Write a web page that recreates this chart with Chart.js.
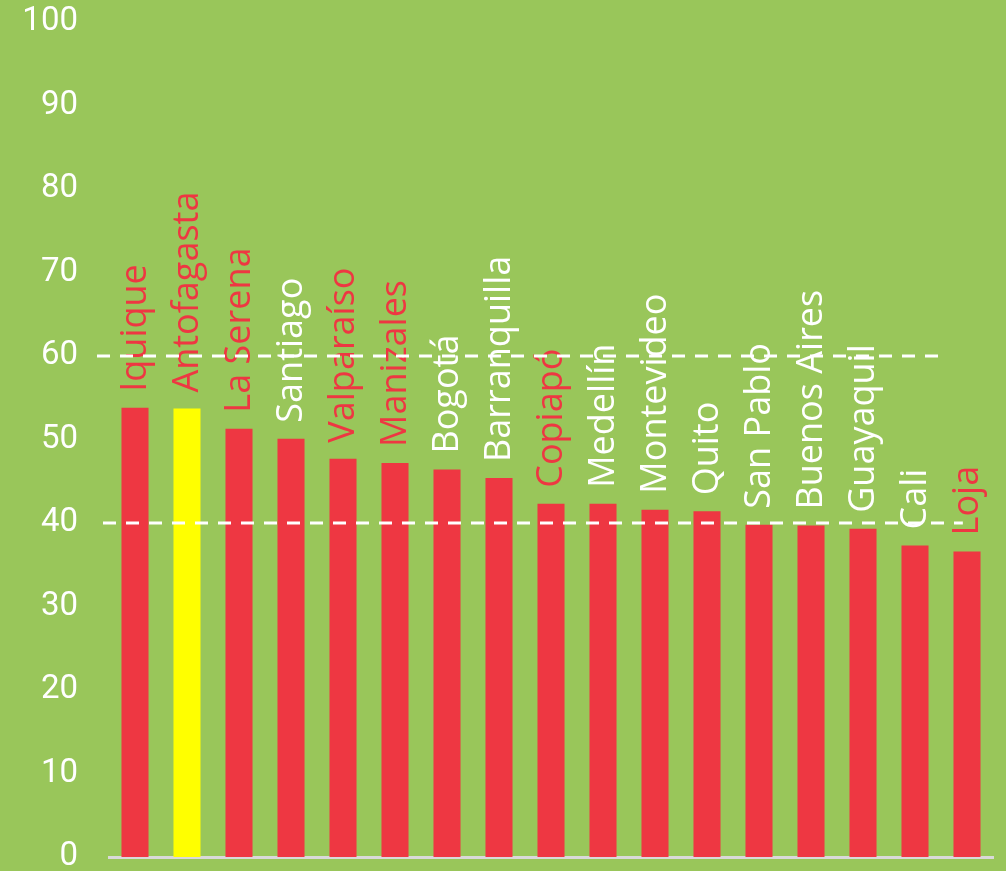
<!DOCTYPE html>
<html>
<head>
<meta charset="utf-8">
<script src="https://cdn.jsdelivr.net/npm/chart.js@4/dist/chart.umd.min.js"></script>
<style>
  html, body { margin: 0; padding: 0; background: #99C65A; }
  #wrap { width: 1006px; height: 871px; }
</style>
</head>
<body>
<div id="wrap"><canvas id="c" width="1006" height="871"></canvas></div>
<script>
// ---- data ----
const categories = ["Iquique", "Antofagasta", "La Serena", "Santiago", "Valparaíso", "Manizales", "Bogotá", "Barranquilla", "Copiapó", "Medellín", "Montevideo", "Quito", "San Pablo", "Buenos Aires", "Guayaquil", "Cali", "Loja"];
const values = [53.8, 53.7, 51.3, 50.1, 47.7, 47.2, 46.4, 45.4, 42.3, 42.3, 41.6, 41.4, 39.8, 39.7, 39.3, 37.3, 36.6];
const yTicks = [0, 10, 20, 30, 40, 50, 60, 70, 80, 90, 100];
const referenceLines = [60, 40];
const highlighted = ["Antofagasta"];
const redLabelCities = ["Iquique", "Antofagasta", "La Serena", "Valparaíso", "Manizales", "Copiapó", "Loja"];

// ---- styles ----
const BG = "#99C65A";
const RED = "#EE3742";
const YELLOW = "#FFFF00";
const WHITE = "#FFFFFF";

const barColors = categories.map(c => highlighted.includes(c) ? YELLOW : RED);

const bgPlugin = {
  id: "bg",
  beforeDraw(chart) {
    const ctx = chart.ctx;
    ctx.save();
    ctx.fillStyle = BG;
    ctx.fillRect(0, 0, chart.width, chart.height);
    ctx.restore();
  }
};

const labelPlugin = {
  id: "barLabels",
  afterDatasetsDraw(chart) {
    const ctx = chart.ctx;
    const meta = chart.getDatasetMeta(0);
    ctx.save();
    ctx.font = "36px 'Open Sans'";
    meta.data.forEach((bar, i) => {
      const name = categories[i];
      ctx.save();
      ctx.translate(bar.x + 1, bar.y - 16);
      ctx.rotate(-Math.PI / 2);
      ctx.textAlign = "left";
      ctx.textBaseline = "middle";
      ctx.fillStyle = redLabelCities.includes(name) ? RED : WHITE;
      ctx.fillText(name, 0, 0);
      ctx.restore();
    });
    ctx.restore();
  }
};

const refLinePlugin = {
  id: "refLines",
  afterDraw(chart) {
    const ctx = chart.ctx;
    const ys = chart.scales.y;
    const xs = chart.scales.x;
    const area = chart.chartArea;
    const extents = [
      [area.left - 12, xs.getPixelForValue(15.6)],
      [area.left - 6, xs.getPixelForValue(15.92)]
    ];
    ctx.save();
    ctx.strokeStyle = WHITE;
    ctx.lineWidth = 3;
    ctx.setLineDash([13, 10]);
    referenceLines.forEach((v, i) => {
      const y = ys.getPixelForValue(v);
      ctx.beginPath();
      ctx.moveTo(extents[i][0], y);
      ctx.lineTo(extents[i][1], y);
      ctx.stroke();
    });
    ctx.restore();
  }
};

new Chart(document.getElementById("c"), {
  type: "bar",
  data: {
    labels: categories,
    datasets: [{
      data: values,
      backgroundColor: barColors,
      borderWidth: 0,
      barPercentage: 0.52,
      categoryPercentage: 1.0
    }]
  },
  options: {
    responsive: false,
    animation: false,
    devicePixelRatio: 1,
    layout: { padding: { top: 22, bottom: 14, left: 0, right: 13 } },
    plugins: { legend: { display: false }, tooltip: { enabled: false } },
    scales: {
      x: {
        grid: { display: false, drawTicks: false },
        border: { display: true, color: "#D9D9D9", width: 3 },
        ticks: { display: false },
        afterFit(scale) { scale.height = 0; scale.paddingLeft = 0; scale.paddingRight = 0; }
      },
      y: {
        min: 0,
        max: 100,
        afterBuildTicks(scale) { scale.ticks = yTicks.map(v => ({ value: v })); },
        afterFit(scale) { scale.width = 109; scale.paddingTop = 0; scale.paddingBottom = 0; },
        grid: { display: false, drawTicks: false },
        border: { display: false },
        ticks: {
          color: WHITE,
          padding: 31,
          font: { family: "Roboto", size: 33, lineHeight: 0.8 }
        }
      }
    }
  },
  plugins: [bgPlugin, labelPlugin, refLinePlugin]
});
</script>
</body>
</html>
